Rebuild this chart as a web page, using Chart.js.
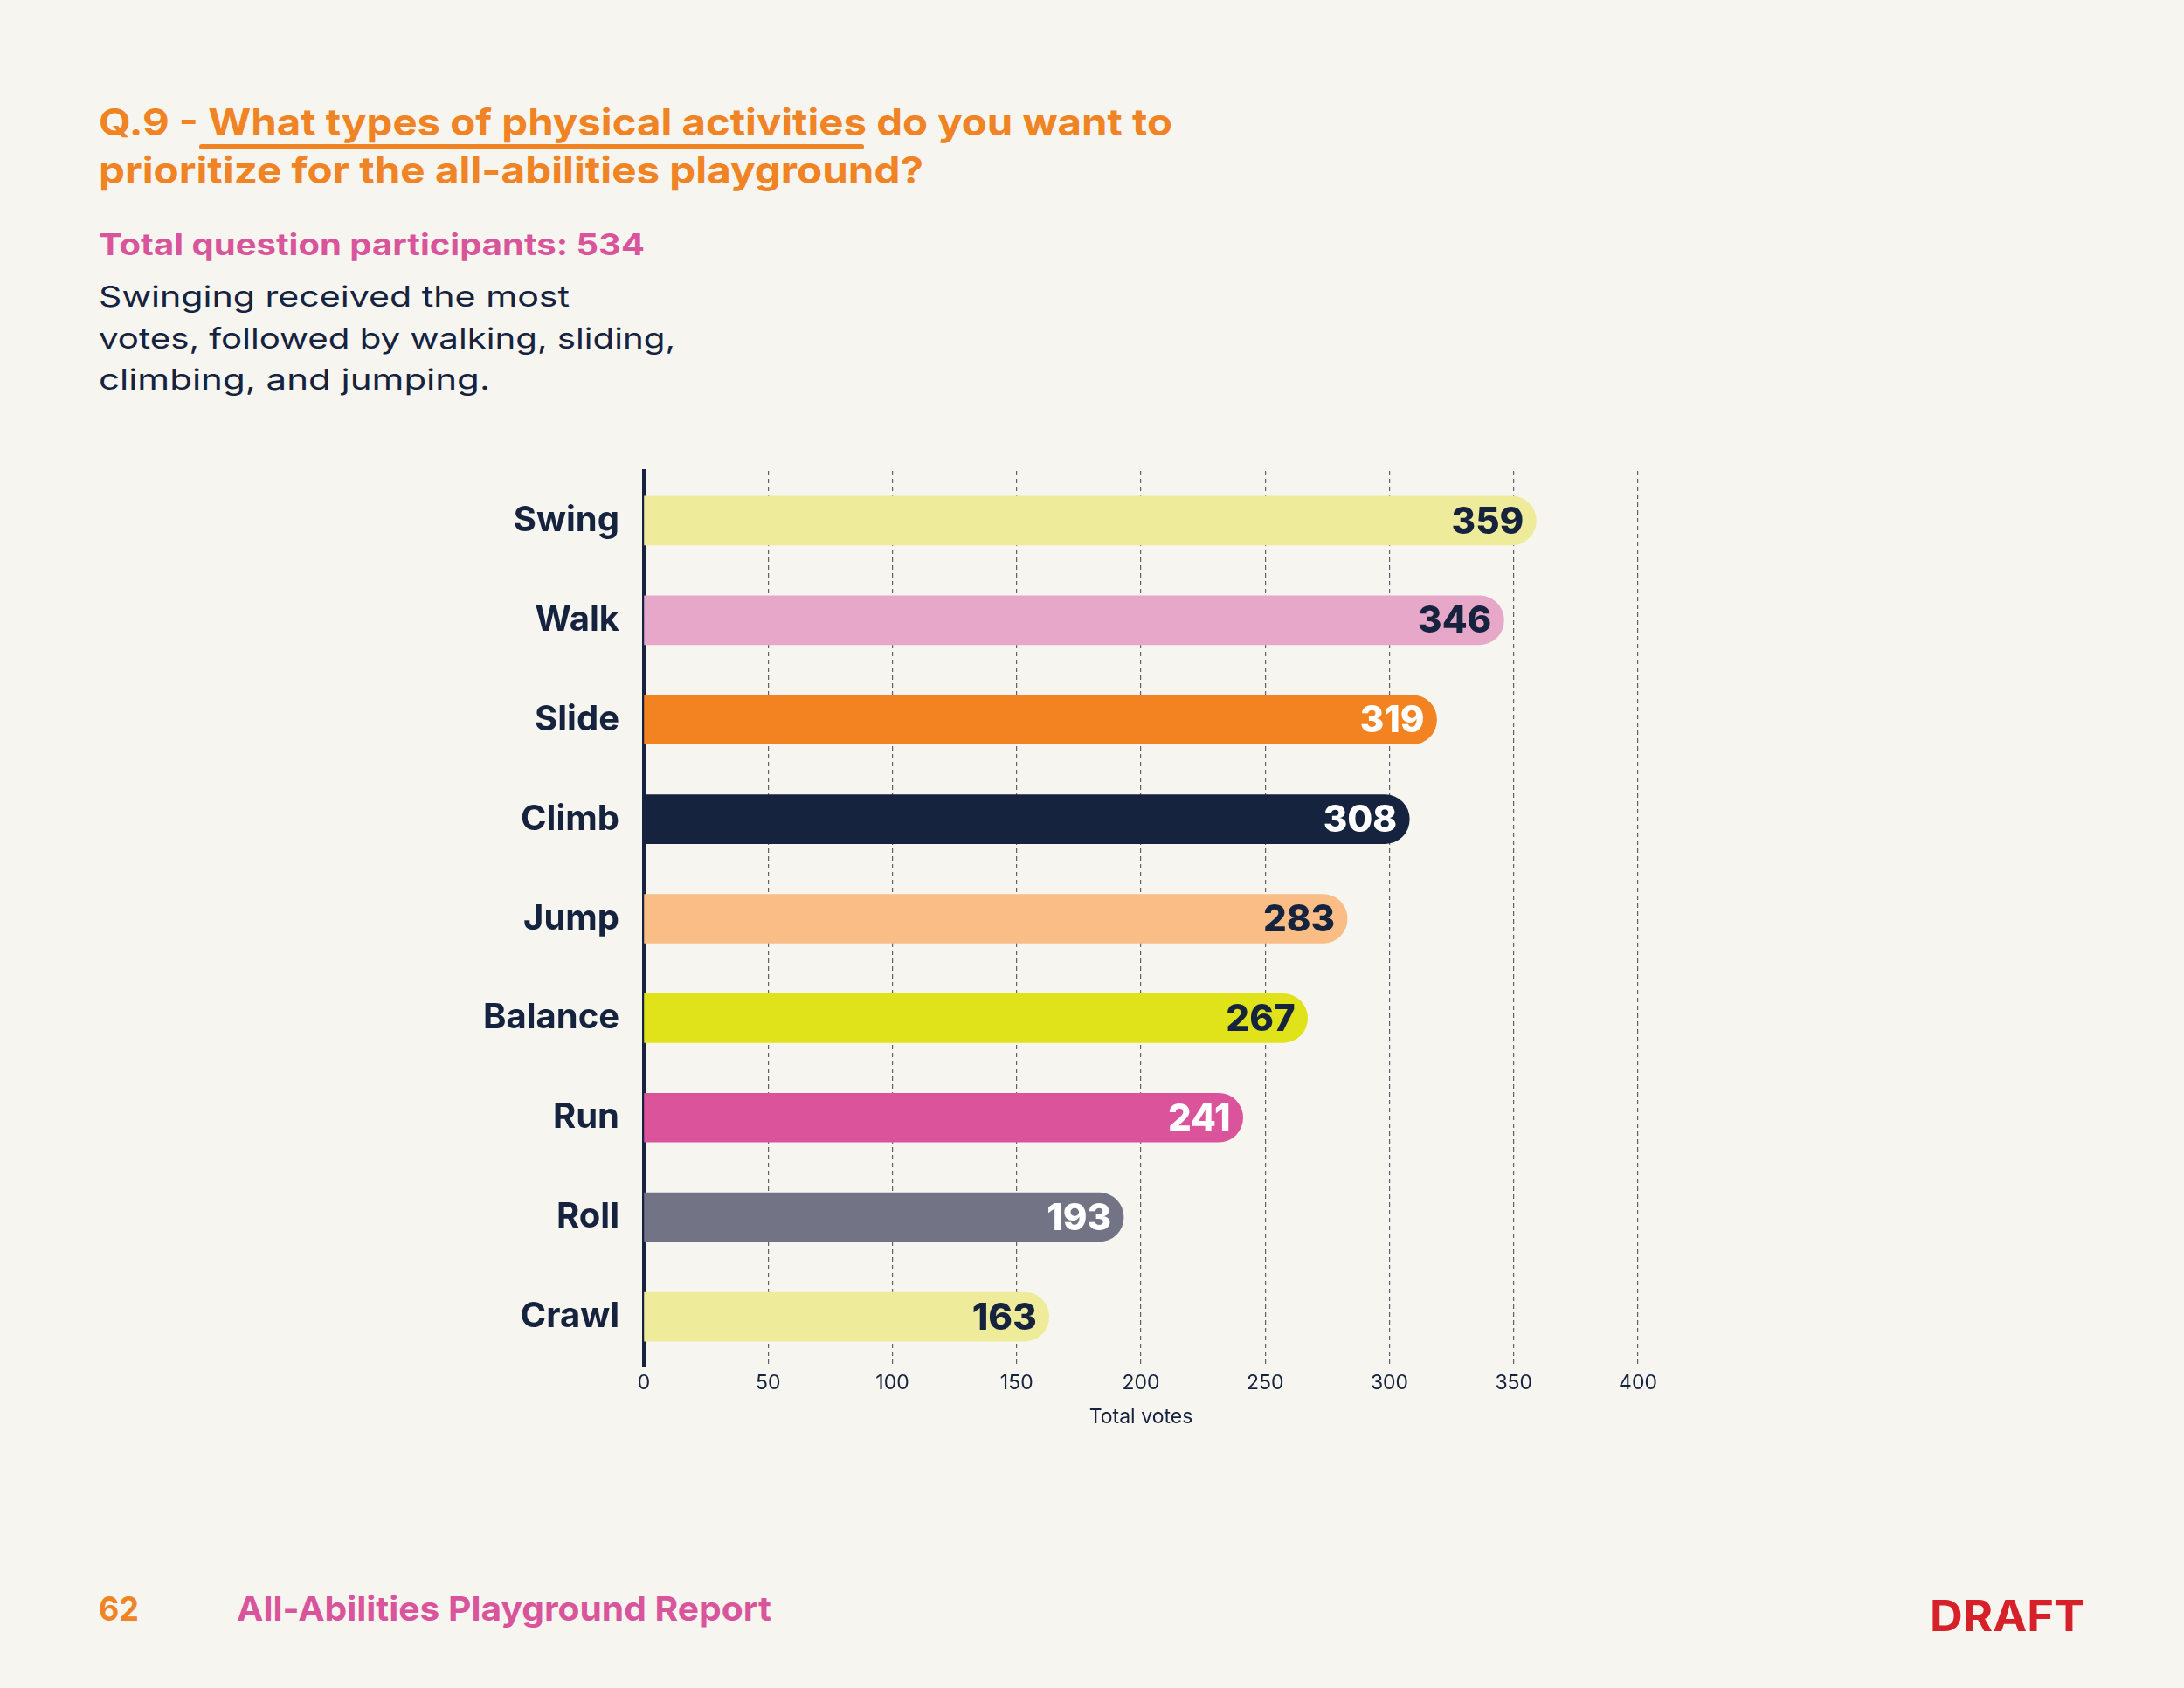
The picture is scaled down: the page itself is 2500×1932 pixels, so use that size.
<!DOCTYPE html>
<html>
<head>
<meta charset="utf-8">
<script src="https://cdn.jsdelivr.net/npm/chart.js@4.4.1/dist/chart.umd.min.js"></script>
<style>
  html, body { margin: 0; padding: 0; }
  body { width: 2500px; height: 1932px; background: #f6f5f0; position: relative; overflow: hidden; font-family: Inter, "Open Sans", sans-serif; }
  .txt { position: absolute; line-height: 1; white-space: nowrap; transform-origin: 0 0; }
  .title { color: #f08323; font-weight: 700; font-size: 42px; }
  .sub { color: #d9559b; font-weight: 700; font-size: 34px; }
  .body { color: #16233f; font-weight: 400; font-size: 32px; }
  #chartBox { position: absolute; left: 400px; top: 500px; width: 1600px; height: 1160px; }
</style>
</head>
<body>
<div class="txt title fit" data-w="1229" style="left:113px; top:119px;">Q.9 - What types of physical activities do you want to</div>
<div class="txt title fit" data-w="944" style="left:113px; top:174px;">prioritize for the all-abilities playground?</div>
<div style="position:absolute; left:228px; top:165px; width:761px; height:6px; border-radius:3px; background:#f08323;"></div>
<div class="txt sub fit" data-w="625" style="left:113px; top:263px;">Total question participants: 534</div>
<div class="txt body fit" data-w="539" style="left:113px; top:324px;">Swinging received the most</div>
<div class="txt body fit" data-w="660" style="left:113px; top:372px;">votes, followed by walking, sliding,</div>
<div class="txt body fit" data-w="448" style="left:113px; top:419px;">climbing, and jumping.</div>

<div id="chartBox"><canvas id="votesChart" width="1600" height="1160"></canvas></div>

<div class="txt fit" data-w="46" style="left:113px; top:1822px; font-size:38px; font-weight:700; color:#f08323;">62</div>
<div class="txt fit" data-w="612" style="left:271px; top:1822px; font-size:38px; font-weight:700; color:#d9559b;">All-Abilities Playground Report</div>
<div class="txt fit" data-w="177" style="left:2209px; top:1824px; font-size:50px; font-weight:700; color:#d6202a;">DRAFT</div>

<script>
// chart data
const activities = ['Swing', 'Walk', 'Slide', 'Climb', 'Jump', 'Balance', 'Run', 'Roll', 'Crawl'];
const totalVotes = [359, 346, 319, 308, 283, 267, 241, 193, 163];
const barColors = ['#eeec9a', '#e7a7c8', '#f38321', '#15233f', '#fbbd86', '#e0e31a', '#db539b', '#737386', '#eeec9a'];
const valueColors = ['#16233f', '#16233f', '#ffffff', '#ffffff', '#16233f', '#16233f', '#ffffff', '#ffffff', '#16233f'];
const xTicks = [0, 50, 100, 150, 200, 250, 300, 350, 400];

const navy = '#16233f';

// the reference font is wider than Inter, so stretch each run to its width
function fitText() {
    document.querySelectorAll('.fit').forEach(el => {
        const target = parseFloat(el.dataset.w);
        const current = el.getBoundingClientRect().width;
        if (current > 0) {
            el.style.transform = 'scaleX(' + (target / current).toFixed(4) + ')';
        }
    });
}

// draws the number at the end of each bar
const valueLabels = {
    id: 'valueLabels',
    afterDatasetsDraw(chart) {
        const ctx = chart.ctx;
        const meta = chart.getDatasetMeta(0);
        ctx.save();
        ctx.font = '800 42px Inter, "Open Sans", sans-serif';
        ctx.textAlign = 'right';
        ctx.textBaseline = 'middle';
        meta.data.forEach((bar, i) => {
            ctx.fillStyle = valueColors[i];
            ctx.fillText(String(totalVotes[i]), bar.x - 14, bar.y + 2);
        });
        ctx.restore();
    }
};

function drawChart() {
    const ctx = document.getElementById('votesChart').getContext('2d');
    new Chart(ctx, {
        type: 'bar',
        data: {
            labels: activities,
            datasets: [{
                data: totalVotes,
                backgroundColor: barColors,
                borderWidth: 0,
                borderRadius: 28,
                borderSkipped: 'start',
                barThickness: 56
            }]
        },
        options: {
            indexAxis: 'y',
            responsive: false,
            animation: false,
            layout: { padding: { top: 39, right: 125, bottom: 0, left: 0 } },
            plugins: {
                legend: { display: false },
                tooltip: { enabled: false }
            },
            scales: {
                x: {
                    min: 0,
                    max: 400,
                    afterFit: scale => { scale.height = 96; },
                    afterBuildTicks: scale => { scale.ticks = xTicks.map(v => ({ value: v })); },
                    grid: {
                        drawTicks: false,
                        lineWidth: 1.2,
                        color: c => (c.tick && c.tick.value === 0) ? 'rgba(0,0,0,0)' : 'rgba(60,60,70,0.8)'
                    },
                    border: { display: false, dash: [5, 4] },
                    ticks: {
                        padding: 5,
                        color: navy,
                        font: { family: 'Inter', size: 23, weight: '400' }
                    },
                    title: {
                        display: true,
                        text: 'Total votes',
                        color: navy,
                        padding: { top: 0, bottom: 24 },
                        font: { family: 'Inter', size: 23, weight: '400' }
                    }
                },
                y: {
                    z: 1,
                    // fixed width, and no extra room above/below for the labels
                    afterFit: scale => {
                        scale.width = 337;
                        scale.paddingTop = 0;
                        scale.paddingBottom = 0;
                    },
                    grid: { display: false, drawTicks: false },
                    border: { display: true, color: navy, width: 5 },
                    ticks: {
                        padding: 28,
                        color: navy,
                        font: { family: 'Inter', size: 40, weight: '700' }
                    }
                }
            }
        },
        plugins: [valueLabels]
    });
}

document.addEventListener('DOMContentLoaded', function() {
    fitText();
    drawChart();
});
</script>
</body>
</html>
